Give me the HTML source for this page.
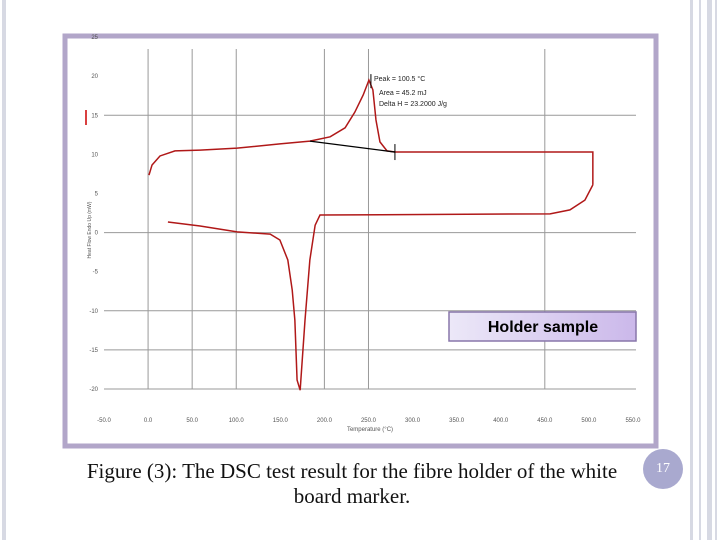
<!DOCTYPE html>
<html><head><meta charset="utf-8"><style>
body{margin:0;width:720px;height:540px;background:#fff;position:relative;overflow:hidden;font-family:"Liberation Sans",sans-serif}
.cap{position:absolute;left:52px;top:459px;width:600px;text-align:center;font-family:"Liberation Serif",serif;font-size:21px;line-height:25px;color:#111}
.pn{position:absolute;left:643px;top:449px;width:40px;height:40px;border-radius:50%;background:#a9a9cf;color:#fff;font-family:"Liberation Serif",serif;font-size:14px;text-align:center;line-height:40px}
</style></head><body>
<svg id="deco" width="720" height="540" style="position:absolute;left:0;top:0">
<rect x="2" y="0" width="4" height="540" fill="#d7d9e3"/>
<rect x="690" y="0" width="3" height="540" fill="#d7d9e3"/>
<rect x="699" y="0" width="2" height="540" fill="#d7d9e3"/>
<rect x="707" y="0" width="5" height="540" fill="#d7d9e3"/>
<rect x="715" y="0" width="2" height="540" fill="#d7d9e3"/>
</svg>
<svg id="chart" width="720" height="540" style="position:absolute;left:0;top:0"></svg>
<div class="cap">Figure (3): The DSC test result for the fibre holder of the white<br>board marker.</div>
<div class="pn">17</div>
<script>
const xTickLabels=["-50.0","0.0","50.0","100.0","150.0","200.0","250.0","300.0","350.0","400.0","450.0","500.0","550.0"];
const yTickLabels=["-20","-15","-10","-5","0","5","10","15","20","25"];
const upperX=[1.02,1.09,1.27,1.61,2.18,3.02,3.99,4.67,5.13,5.47,5.69,5.88,6.01,6.10,6.17,6.26,6.42,6.60,11.09,11.09];
const upperY=[5.47,5.73,5.96,6.09,6.11,6.16,6.27,6.34,6.45,6.68,7.08,7.52,7.90,7.65,6.88,6.32,6.09,6.06,6.06,5.22];
const lowerX=[11.09,10.91,10.57,10.12,4.90,4.79,4.67,4.56,4.45,4.38,4.33,4.27,4.17,3.99,3.77,3.02,2.18,1.45];
const lowerY=[5.22,4.83,4.58,4.48,4.45,4.19,3.30,1.76,-0.03,0.23,1.76,2.53,3.30,3.81,3.96,4.02,4.17,4.27];
const baselineX=[4.67,6.60];
const baselineY=[6.34,6.06];
const gridXIdx=[1,2,3,5,6,10];
const gridYVals=[0,1,2,4,7];
const sx=v=>104+v*44.08, sy=v=>389-v*39.1;
const svg=document.getElementById('chart');const NS='http://www.w3.org/2000/svg';
function mk(t,a,p){const e=document.createElementNS(NS,t);for(const k in a)e.setAttribute(k,a[k]);(p||svg).appendChild(e);return e;}
let e;
e=mk('rect',{x:65,y:36,width:591,height:410,fill:'#fff',stroke:'#b2a6c9','stroke-width':5});


gridXIdx.forEach(i=>{e=mk('line',{x1:sx(i),x2:sx(i),y1:49,y2:389,stroke:'#999','stroke-width':1});

});
gridYVals.forEach(v=>{e=mk('line',{x1:104,x2:636,y1:sy(v),y2:sy(v),stroke:'#999','stroke-width':1});

});
xTickLabels.forEach((l,i)=>{e=mk('text',{x:sx(i),y:422,'font-size':6,'text-anchor':'middle',fill:'#555'});e.textContent=l;

});
yTickLabels.forEach((l,i)=>{e=mk('text',{x:98,y:sy(i)+2,'font-size':6,'text-anchor':'end',fill:'#555'});e.textContent=l;

});
e=mk('text',{x:370,y:431,'font-size':6,'text-anchor':'middle',fill:'#555'});e.textContent='Temperature (°C)';


e=mk('text',{x:91,y:230,'font-size':5,'text-anchor':'middle',fill:'#555',transform:'rotate(-90 91 230)'});e.textContent='Heat Flow Endo Up (mW)';


e=mk('line',{x1:86,x2:86,y1:110,y2:125,stroke:'#c00','stroke-width':1.5});


const pts=(X,Y)=>X.map((x,i)=>sx(x)+','+sy(Y[i])).join(' ');
e=mk('polyline',{points:pts(upperX,upperY),fill:'none',stroke:'#b01818','stroke-width':1.5});


e=mk('polyline',{points:pts(lowerX,lowerY),fill:'none',stroke:'#b01818','stroke-width':1.5});


e=mk('polyline',{points:pts(baselineX,baselineY),fill:'none',stroke:'#000','stroke-width':1.3});


e=mk('line',{x1:sx(6.60),x2:sx(6.60),y1:sy(6.06)-8,y2:sy(6.06)+8,stroke:'#000'});


e=mk('line',{x1:sx(6.01)+2,x2:sx(6.01)+2,y1:sy(7.90)-6,y2:sy(7.90)+8,stroke:'#000'});


[['Peak = 100.5 °C',374,81],['Area = 45.2 mJ',379,95],['Delta H = 23.2000 J/g',379,106]].forEach(a=>{e=mk('text',{x:a[1],y:a[2],'font-size':7,fill:'#222'});e.textContent=a[0];

});
const defs=mk('defs',{});const g=mk('linearGradient',{id:'lg'},defs);mk('stop',{offset:'0','stop-color':'#ece8f8'},g);mk('stop',{offset:'1','stop-color':'#cbb8ea'},g);
e=mk('rect',{x:449,y:312,width:187,height:29,fill:'url(#lg)',stroke:'#8877aa','stroke-width':1.5});


e=mk('text',{x:543,y:332,'font-size':16,'font-weight':'bold','text-anchor':'middle',fill:'#000'});e.textContent='Holder sample';


</script>
</body></html>
